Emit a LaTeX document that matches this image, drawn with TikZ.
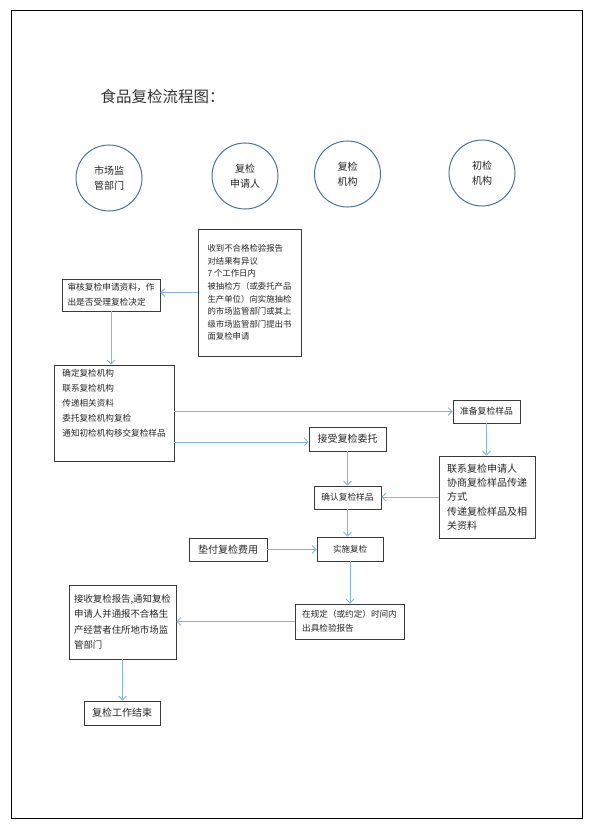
\documentclass[tikz,border=0pt]{standalone}
\usepackage{fontspec}
\newfontfamily\cjk{Noto Sans CJK SC}
\usetikzlibrary{arrows.meta}
\definecolor{boxline}{HTML}{3A3A3A}
\definecolor{arrowblue}{HTML}{8AB4DC}
\definecolor{circline}{HTML}{4D7499}
\tikzset{
  fs/.style={font={\cjk\fontsize{#1}{#1}\selectfont}},
  box/.style={draw=boxline, line width=0.8pt, inner sep=0pt, align=left, text=black!85},
  circ/.style={draw=circline, line width=1pt, circle, minimum size=66pt, inner sep=0pt, align=center,
    font={\cjk\fontsize{10}{15}\selectfont}, text=black!85},
  arr/.style={draw=arrowblue, line width=0.8pt, -{Straight Barb[length=4pt,width=8pt]}}
}
\begin{document}
\begin{tikzpicture}[x=1pt,y=-1pt]
\useasboundingbox (0,0) rectangle (590,824);
\draw[line width=1pt] (11,11) rectangle (582,818);

\node[anchor=west, font={\cjk\fontsize{15.5}{16}\selectfont}, text=black!80] (title) at (97,97) {食品复检流程图：};

\node[circ] (c1) at (109,178) {市场监\\管部门};
\node[circ] (c2) at (245,176) {复检\\申请人};
\node[circ] (c3) at (347.5,174) {复检\\机构};
\node[circ] (c4) at (482,173) {初检\\机构};

\node[box, minimum width=103pt, minimum height=127pt, font={\cjk\fontsize{8.4}{12.6}\selectfont}] (shou) at (249.5,292.5)
 {收到不合格检验报告\\对结果有异议\\7 个工作日内\\被抽检方（或委托产品\\生产单位）向实施抽检\\的市场监管部门或其上\\级市场监管部门提出书\\面复检申请};

\node[box, minimum width=98pt, minimum height=32pt, font={\cjk\fontsize{8.7}{15}\selectfont}] (shen) at (111,295)
 {审核复检申请资料，作\\出是否受理复检决定};

\node[box, minimum width=120pt, minimum height=96pt, font={\cjk\fontsize{8.6}{15}\selectfont}] (que) at (114,413)
 {确定复检机构\\联系复检机构\\传递相关资料\\委托复检机构复检\\通知初检机构移交复检样品\\\strut};

\node[box, minimum width=67pt, minimum height=23pt, font={\cjk\fontsize{8.8}{12}\selectfont}] (zhun) at (486.5,411.5) {准备复检样品};
\node[box, minimum width=77pt, minimum height=24pt, font={\cjk\fontsize{10}{12}\selectfont}] (jie) at (347.5,439) {接受复检委托};
\node[box, minimum width=96pt, minimum height=82pt, font={\cjk\fontsize{10}{14.3}\selectfont}] (lian) at (487,497)
 {联系复检申请人\\协商复检样品传递\\方式\\传递复检样品及相\\关资料};
\node[box, minimum width=67pt, minimum height=23pt, font={\cjk\fontsize{8.7}{12}\selectfont}] (queren) at (347.5,497.5) {确认复检样品};
\node[box, minimum width=66pt, minimum height=24pt, font={\cjk\fontsize{8.5}{12}\selectfont}] (shi) at (350,549) {实施复检};
\node[box, minimum width=78pt, minimum height=23pt, font={\cjk\fontsize{10}{12}\selectfont}] (dian) at (228,549.5) {垫付复检费用};
\node[box, minimum width=109pt, minimum height=35pt, font={\cjk\fontsize{8.6}{14}\selectfont}] (zai) at (349.5,621.5)
 {在规定（或约定）时间内\\出具检验报告};
\node[box, minimum width=107pt, minimum height=74pt, font={\cjk\fontsize{9.4}{15.3}\selectfont}] (jieshou) at (122.5,622)
 {接收复检报告,通知复检\\申请人并通报不合格生\\产经营者住所地市场监\\管部门};
\node[box, minimum width=76pt, minimum height=24pt, font={\cjk\fontsize{10}{12}\selectfont}] (endbox) at (122,713) {复检工作结束};

\draw[arr] (shou.west) -- (shou.west -| shen.east);
\draw[arr] (shen.south) -- (shen.south |- que.north);
\draw[arr] (que.east |- zhun.west) -- (zhun.west);
\draw[arr] ([yshift=-3pt]que.east |- jie.west) -- ([yshift=-3pt]jie.west);
\draw[arr] (zhun.south) -- (zhun.south |- lian.north);
\draw[arr] (jie.south) -- (jie.south |- queren.north);
\draw[arr] (lian.west) -- (lian.west -| queren.east);
\draw[arr] (queren.south) -- (queren.south |- shi.north);
\draw[arr] (dian.east) -- (dian.east -| shi.west);
\draw[arr] (shi.south) -- (shi.south |- zai.north);
\draw[arr] (zai.west) -- (zai.west -| jieshou.east);
\draw[arr] (jieshou.south) -- (jieshou.south |- endbox.north);
\end{tikzpicture}
\end{document}
